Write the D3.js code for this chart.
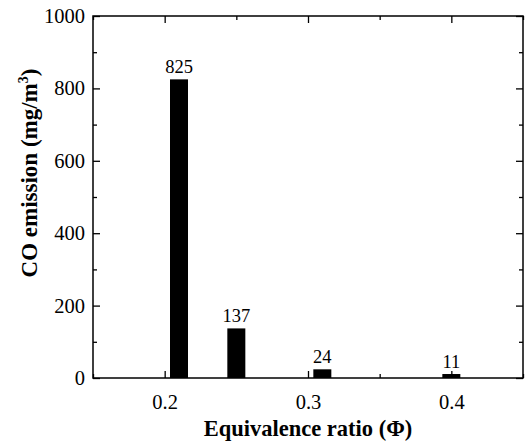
<!DOCTYPE html>
<meta charset="utf-8">
<script src="https://d3js.org/d3.v7.min.js"></script>
<style>
  body { margin: 0; background: #fff; }
  text { font-family: "Liberation Serif", "Times New Roman", serif; fill: #000; }
</style>
<div id="chart"></div>
<script>

// data
var ratios = [0.21, 0.25, 0.31, 0.40];
var coValues = [825, 137, 24, 11];
var xTicks = [0.2, 0.3, 0.4];
var xMinor = [0.15, 0.25, 0.35, 0.45];
var yTicks = [0, 200, 400, 600, 800, 1000];
var yMinor = [100, 300, 500, 700, 900];

var width = 526,
  height = 447,
  margin = {top: 16, right: 3, bottom: 69, left: 93},
  barWidth = 18;

var svg = d3.select("#chart")
  .append("svg")
    .attr("width", width)
    .attr("height", height);

var x = d3.scaleLinear().domain([0.15, 0.45]).range([margin.left, width - margin.right]);
var y = d3.scaleLinear().domain([0, 1000]).range([height - margin.bottom, margin.top]);

var x0 = x.range()[0], x1 = x.range()[1], y0 = y.range()[0], y1 = y.range()[1];

// bars
svg.selectAll("rect.bar")
  .data(ratios)
  .enter()
  .append("rect")
    .attr("class", "bar")
    .attr("x", function(d){ return x(d) - barWidth / 2 })
    .attr("y", function(d, i){ return y(coValues[i]) })
    .attr("width", barWidth)
    .attr("height", function(d, i){ return y0 - y(coValues[i]) })
    .style("fill", "#000");

// value labels
svg.selectAll("text.val")
  .data(ratios)
  .enter()
  .append("text")
    .attr("x", function(d){ return x(d) })
    .attr("y", function(d, i){ return y(coValues[i]) - 6 })
    .attr("text-anchor", "middle")
    .style("font-size", "18.5px")
    .text(function(d, i){ return coValues[i] });

// axes, ticks pointing inward, mirrored on top and right
var bottom = svg.append("g").attr("transform", "translate(0," + y0 + ")");
bottom.call(d3.axisBottom(x).tickValues(xTicks).tickSizeInner(-7).tickSizeOuter(0).tickPadding(16).tickFormat(d3.format(".1f")));
svg.append("g").attr("transform", "translate(0," + y0 + ")")
  .call(d3.axisBottom(x).tickValues(xMinor).tickSizeInner(-4).tickSizeOuter(0).tickFormat(""));

svg.append("g").attr("transform", "translate(0," + y1 + ")")
  .call(d3.axisTop(x).tickValues(xTicks).tickSizeInner(-7).tickSizeOuter(0).tickFormat(""));
svg.append("g").attr("transform", "translate(0," + y1 + ")")
  .call(d3.axisTop(x).tickValues(xMinor).tickSizeInner(-4).tickSizeOuter(0).tickFormat(""));

var left = svg.append("g").attr("transform", "translate(" + x0 + ",0)");
left.call(d3.axisLeft(y).tickValues(yTicks).tickSizeInner(-7).tickSizeOuter(0).tickPadding(8).tickFormat(d3.format("d")));
svg.append("g").attr("transform", "translate(" + x0 + ",0)")
  .call(d3.axisLeft(y).tickValues(yMinor).tickSizeInner(-4).tickSizeOuter(0).tickFormat(""));

svg.append("g").attr("transform", "translate(" + x1 + ",0)")
  .call(d3.axisRight(y).tickValues(yTicks).tickSizeInner(-7).tickSizeOuter(0).tickFormat(""));
svg.append("g").attr("transform", "translate(" + x1 + ",0)")
  .call(d3.axisRight(y).tickValues(yMinor).tickSizeInner(-4).tickSizeOuter(0).tickFormat(""));

svg.selectAll(".domain").remove();
svg.selectAll(".tick line").style("stroke", "#000").style("stroke-width", 1.3);
svg.selectAll(".tick text")
  .style("font-family", "'Liberation Serif', 'Times New Roman', serif")
  .style("font-size", "20.5px")
  .style("fill", "#000");

// frame
svg.append("rect")
  .attr("x", x0)
  .attr("y", y1)
  .attr("width", x1 - x0)
  .attr("height", y0 - y1)
  .style("fill", "none")
  .style("stroke", "#000")
  .style("stroke-width", 1.5);

// axis titles
svg.append("text")
  .attr("x", (x0 + x1) / 2)
  .attr("y", 436)
  .attr("text-anchor", "middle")
  .style("font-size", "22.5px")
  .style("font-weight", "bold")
  .text("Equivalence ratio (Φ)");

var yt = svg.append("text")
  .attr("transform", "translate(37,173) rotate(-90)")
  .attr("text-anchor", "middle")
  .style("font-size", "23px")
  .style("font-weight", "bold");
yt.append("tspan").text("CO emission (mg/m");
yt.append("tspan").attr("dy", -9).style("font-size", "14px").text("3");
yt.append("tspan").attr("dy", 9).text(")");

</script>
